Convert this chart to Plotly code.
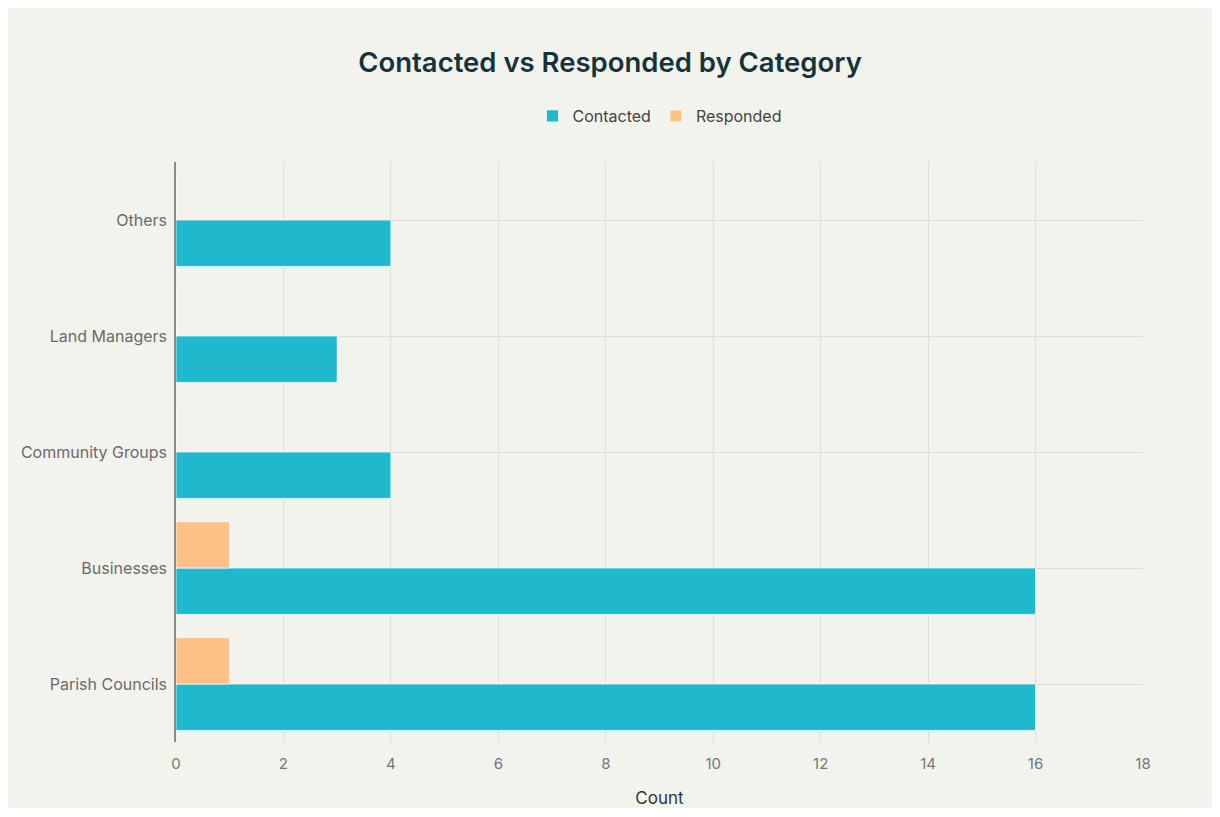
import plotly.graph_objects as go

categories = ["Parish Councils", "Businesses", "Community Groups", "Land Managers", "Others"]
contacted = [16, 16, 4, 3, 4]
responded = [1, 1, 0, 0, 0]
x_ticks = [0, 2, 4, 6, 8, 10, 12, 14, 16, 18]

FONT = "Inter, 'Noto Sans', sans-serif"

fig = go.Figure()
fig.add_trace(go.Bar(
    y=categories, x=contacted, name="Contacted", orientation="h",
    marker=dict(color="#1FB8CD", line=dict(color="rgba(255,255,255,0.7)", width=1)),
))
fig.add_trace(go.Bar(
    y=categories, x=responded, name="Responded", orientation="h",
    marker=dict(color="#FFC185", line=dict(color="rgba(255,255,255,0.7)", width=1)),
))

fig.update_layout(
    width=1204, height=800,
    paper_bgcolor="#f3f3ee", plot_bgcolor="#f3f3ee",
    margin=dict(l=168, r=69, t=154, b=66),
    barmode="group", bargap=0.2, bargroupgap=0,
    font=dict(family=FONT, size=16, color="#555555"),
    title=dict(text="Contacted vs Responded by Category", x=0.5, xanchor="center",
               y=1 - 54 / 800, yanchor="middle",
               font=dict(family=FONT, size=27.5, color="#13343b", weight=600)),
    legend=dict(orientation="h", x=0.5, xanchor="center", y=1 + 46 / 580, yanchor="middle",
                font=dict(size=16, color="#444444"), bgcolor="rgba(0,0,0,0)",
                traceorder="normal"),
    xaxis=dict(range=[0, 18], tickvals=x_ticks, showgrid=True, gridcolor="#dfdfda", gridwidth=1,
               zeroline=False, showline=False, automargin=False,
               ticks="outside", ticklen=8, tickcolor="rgba(0,0,0,0)",
               tickfont=dict(size=15, color="#777777"),
               title=dict(text="Count", font=dict(size=17, color="#333333"), standoff=26)),
    yaxis=dict(showgrid=True, gridcolor="#dfdfda", gridwidth=1, showline=True,
               linecolor="#8a8a8a", linewidth=1.5, zeroline=False, automargin=False,
               ticks="outside", ticklen=4, tickcolor="rgba(0,0,0,0)",
               tickfont=dict(size=16, color="#6a6a6a")),
)

fig.write_html("out.html")
